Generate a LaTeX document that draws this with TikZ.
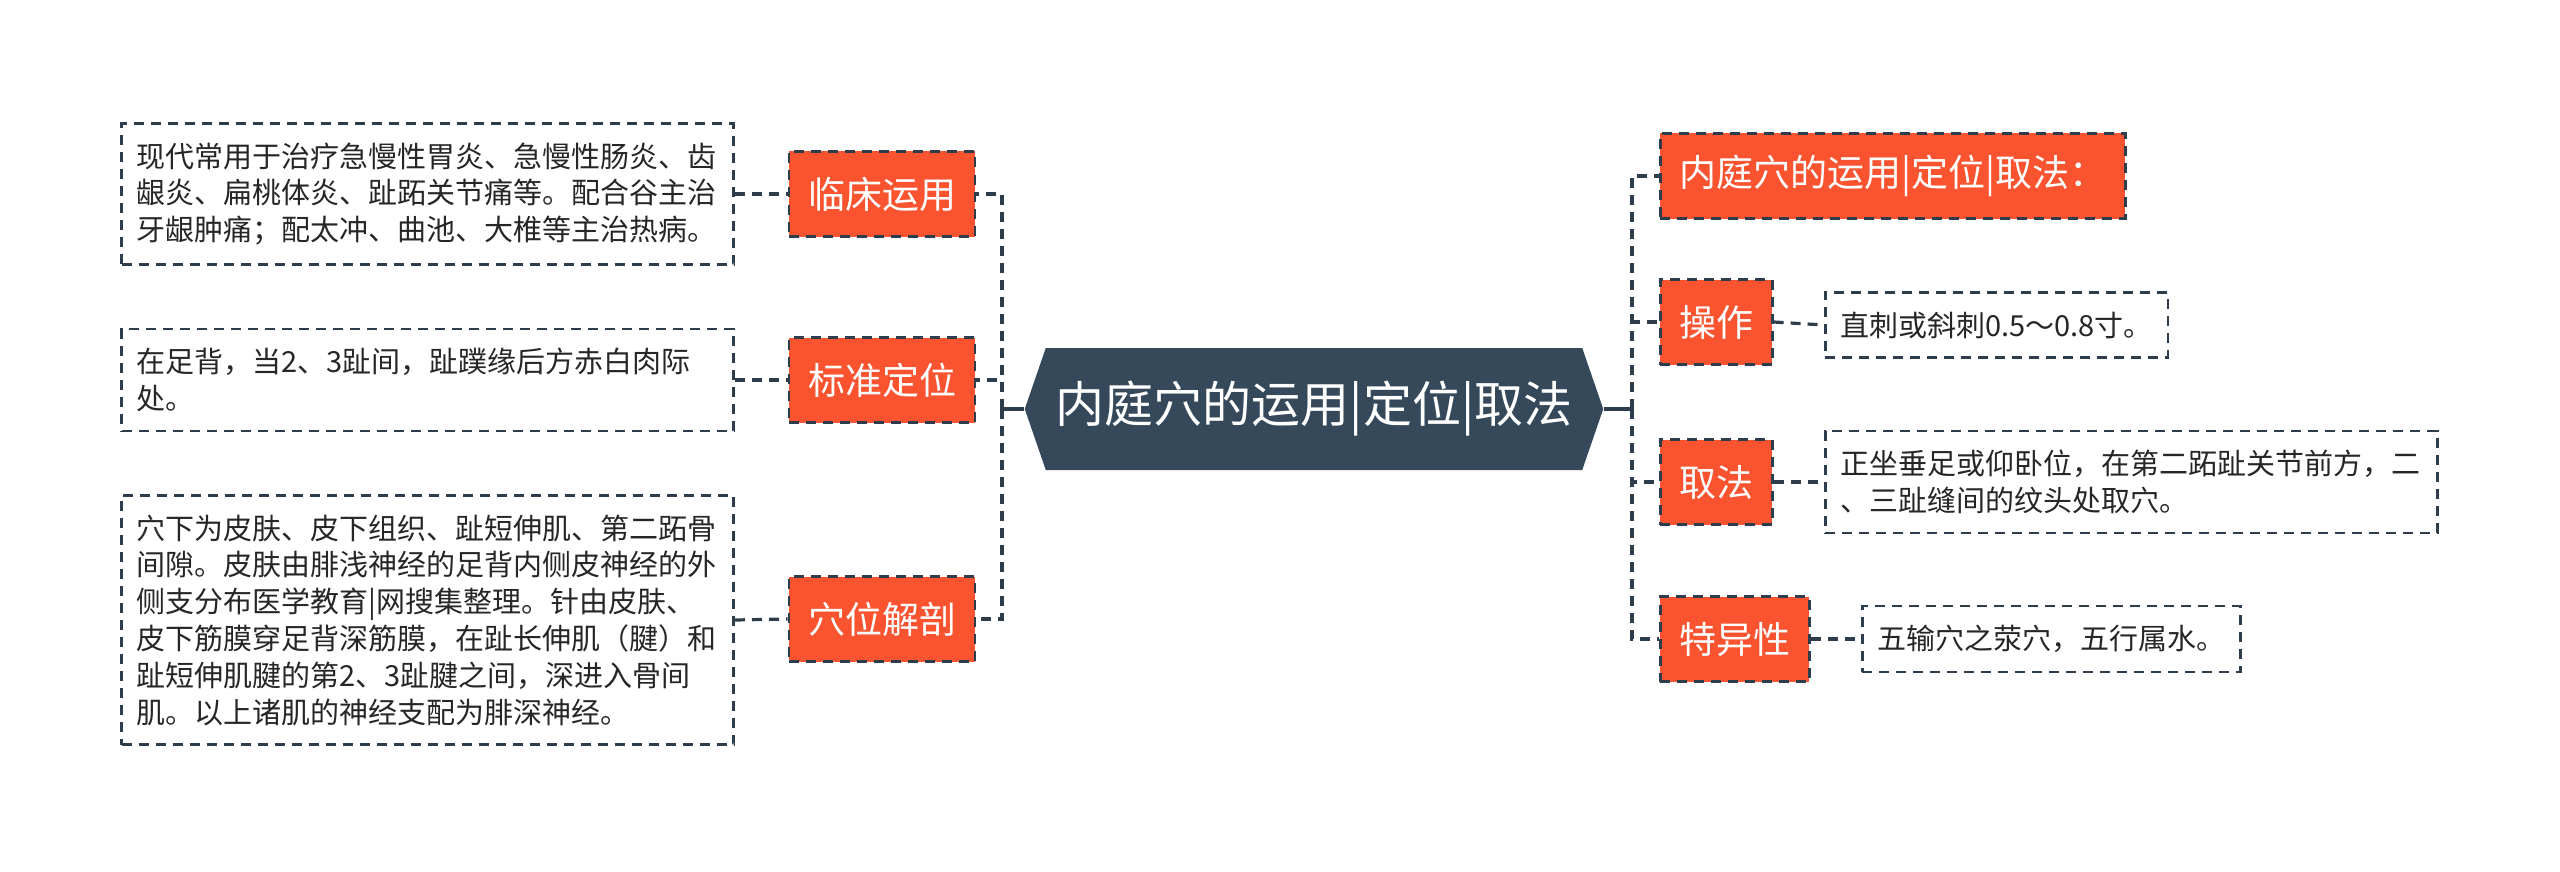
\documentclass[tikz,border=0pt]{standalone}
\usepackage{fontspec}
\setmainfont{Noto Sans CJK SC}
\usetikzlibrary{shapes.symbols}
\definecolor{tangerine}{HTML}{FA5330}
\definecolor{slate}{HTML}{35495B}
\definecolor{ink}{HTML}{2E3D4C}
\tikzset{
  hub/.style={signal, signal to=west and east, signal pointer angle=142,
    fill=slate, text=white, font=\fontsize{24.5pt}{28pt}\selectfont,
    inner xsep=5pt, minimum height=61pt},
  branch/.style={fill=tangerine, draw=ink, line width=1.3pt, dash pattern=on 5pt off 3.5pt,
    text=white, font=\fontsize{18.5pt}{22pt}\selectfont,
    inner xsep=9.5pt, minimum height=42.5pt},
  note/.style={draw=ink, line width=1.3pt, dash pattern=on 5pt off 3.5pt,
    text=black!85, font=\fontsize{14.5pt}{18.4pt}\selectfont, align=left,
    inner xsep=7.5pt, inner ysep=9.6pt},
  trunk/.style={draw=ink, line width=1.6pt},
  link/.style={draw=ink, line width=1.6pt, dash pattern=on 5pt off 3.5pt}
}
\begin{document}
\begin{tikzpicture}[x=0.5pt,y=-0.5pt]
  \useasboundingbox (0,0) rectangle (2560,872);
  \node[hub] (hub) at (1314,409) {内庭穴的运用|定位|取法};
  % left side
  \node[branch] (lc) at (882,194) {临床运用};
  \node[branch] (bz) at (882,380) {标准定位};
  \node[branch] (xw) at (882,619) {穴位解剖};
  \node[note, text width=291pt, anchor=east] (lcn) at (735,194)
    {现代常用于治疗急慢性胃炎、急慢性肠炎、齿\\龈炎、扁桃体炎、趾跖关节痛等。配合谷主治\\牙龈肿痛；配太冲、曲池、大椎等主治热病。};
  \node[note, text width=291pt, anchor=east] (bzn) at (735,380)
    {在足背，当2、3趾间，趾蹼缘后方赤白肉际\\处。};
  \node[note, text width=291pt, anchor=east] (xwn) at (735,620)
    {穴下为皮肤、皮下组织、趾短伸肌、第二跖骨\\间隙。皮肤由腓浅神经的足背内侧皮神经的外\\侧支分布医学教育|网搜集整理。针由皮肤、\\皮下筋膜穿足背深筋膜，在趾长伸肌（腱）和\\趾短伸肌腱的第2、3趾腱之间，深进入骨间\\肌。以上诸肌的神经支配为腓深神经。};
  % right side
  \node[branch, anchor=west] (yy) at (1659,176) {内庭穴的运用|定位|取法：};
  \node[branch, anchor=west] (cz) at (1659,322) {操作};
  \node[branch, anchor=west] (qf) at (1659,482) {取法};
  \node[branch, anchor=west] (tyx) at (1659,639) {特异性};
  \node[note, anchor=west] (czn) at (1824,325) {直刺或斜刺0.5～0.8寸。};
  \node[note, text width=291pt, anchor=west] (qfn) at (1824,482)
    {正坐垂足或仰卧位，在第二跖趾关节前方，二\\、三趾缝间的纹头处取穴。};
  \node[note, anchor=west] (tyxn) at (1861,639) {五输穴之荥穴，五行属水。};
  \coordinate (lt) at (1002,409);
  \coordinate (rt) at (1632,409);
  \draw[trunk] (hub.west) -- (lt);
  \draw[trunk] (hub.east) -- (rt);
  \begin{scope}[link]
    \draw (lt) |- (lc.east);
    \draw (lt) |- (bz.east);
    \draw (lt) |- (xw.east);
    \draw (rt) |- (yy.west);
    \draw (rt) |- (cz.west);
    \draw (rt) |- (qf.west);
    \draw (rt) |- (tyx.west);
    \draw (lcn.east) -- (lc.west);
    \draw (bzn.east) -- (bz.west);
    \draw (xwn.east) -- (xw.west);
    \draw (cz.east) -- (czn.west);
    \draw (qf.east) -- (qfn.west);
    \draw (tyx.east) -- (tyxn.west);
  \end{scope}
\end{tikzpicture}
\end{document}
